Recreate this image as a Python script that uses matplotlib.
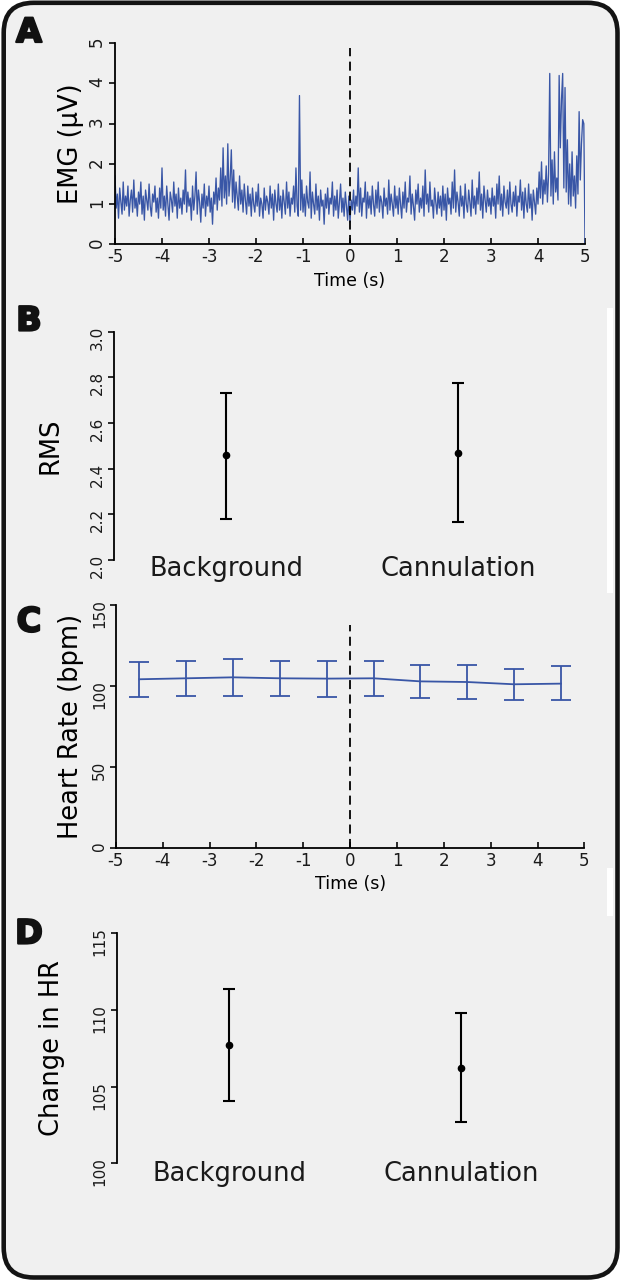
import numpy as np
import matplotlib
matplotlib.use( "Agg" )
import matplotlib.pyplot as plt
import matplotlib.patheffects as pe
from matplotlib.patches import FancyBboxPatch, Rectangle

plt.rcParams[ "axes.unicode_minus" ] = False

#  Panel A - EMG trace, one value every 25 ms from -5 s to 5 s (one row = 0.5 s)
emg_start = -5.0
emg_end = 5.0
emg_values = [
  1.70, 0.90, 1.25, 0.65, 1.40, 1.05, 0.75, 1.55, 0.85, 1.20, 0.95, 1.45, 0.70, 1.10, 1.35, 0.80, 1.60, 0.90, 1.15, 0.70,
  1.30, 1.00, 1.55, 0.75, 1.20, 0.60, 1.35, 1.10, 0.85, 1.50, 0.95, 0.70, 1.25, 1.05, 1.45, 0.80, 1.15, 0.65, 1.40, 0.90,
  1.90, 0.85, 1.20, 0.70, 1.45, 1.00, 0.60, 1.30, 1.10, 0.80, 1.55, 0.95, 1.25, 0.65, 1.40, 0.90, 1.15, 0.75, 1.35, 1.00,
  1.85, 0.80, 1.30, 0.95, 1.15, 0.60, 1.45, 0.85, 1.20, 1.80, 0.75, 1.35, 1.05, 0.55, 1.25, 0.90, 1.50, 0.70, 1.20, 0.95,
  1.45, 0.80, 1.15, 0.50, 1.30, 1.00, 1.65, 0.85, 1.40, 1.10, 1.90, 0.95, 2.40, 1.15, 1.70, 1.00, 2.50, 1.20, 1.60, 2.35,
  1.05, 1.85, 0.90, 1.55, 1.20, 0.85, 1.70, 1.00, 1.35, 0.80, 1.50, 1.10, 0.75, 1.45, 0.95, 1.25, 0.70, 1.40, 1.00, 0.80,
  1.30, 0.95, 1.50, 0.70, 1.15, 1.00, 0.65, 1.40, 0.85, 1.20, 1.05, 0.75, 1.45, 0.90, 1.25, 0.60, 1.35, 1.00, 0.80, 1.50,
  0.85, 1.20, 0.65, 1.35, 1.05, 0.75, 1.55, 0.90, 1.30, 0.70, 1.15, 1.00, 1.45, 0.80, 1.90, 0.95, 0.70, 3.70, 0.85, 1.60,
  0.80, 1.25, 0.70, 1.45, 1.05, 0.90, 1.80, 0.65, 1.30, 1.00, 0.75, 1.50, 0.85, 1.20, 0.60, 1.35, 0.95, 1.10, 0.50, 1.25,
  0.90, 1.40, 0.75, 1.15, 1.00, 1.55, 0.70, 1.20, 0.85, 1.35, 0.65, 1.05, 1.50, 0.80, 1.15, 0.70, 1.30, 0.95, 0.60, 1.20,
  0.55, 1.10, 0.85, 1.35, 0.75, 1.20, 0.95, 1.90, 0.80, 1.40, 0.70, 1.15, 1.05, 1.55, 0.65, 1.30, 0.90, 1.20, 0.75, 1.45,
  1.00, 0.70, 1.35, 0.90, 1.55, 0.80, 1.20, 1.05, 0.65, 1.40, 0.95, 1.15, 0.75, 1.60, 0.85, 1.25, 1.00, 0.70, 1.45, 0.90,
  1.20, 0.75, 1.40, 1.00, 0.65, 1.30, 0.90, 1.55, 0.80, 1.15, 1.05, 1.70, 0.75, 1.25, 0.95, 0.60, 1.35, 1.00, 1.50, 0.80,
  1.15, 0.90, 1.45, 0.70, 1.85, 1.00, 1.25, 0.80, 1.55, 0.95, 1.10, 0.65, 1.40, 1.05, 0.75, 1.30, 0.90, 1.20, 0.70, 1.45,
  0.85, 1.25, 0.60, 1.40, 1.00, 1.15, 0.75, 1.55, 0.90, 1.85, 0.80, 1.30, 1.05, 0.70, 1.45, 0.95, 1.20, 0.65, 1.50, 1.00,
  0.80, 1.35, 1.05, 0.70, 1.60, 0.90, 1.20, 0.75, 1.40, 1.00, 1.80, 0.85, 1.25, 0.65, 1.45, 1.10, 0.80, 1.35, 0.95, 1.15,
  0.75, 1.40, 0.95, 1.20, 0.65, 1.50, 1.00, 1.70, 0.85, 1.25, 0.70, 1.45, 1.05, 0.90, 1.35, 0.75, 1.55, 1.00, 0.80, 1.30,
  0.95, 1.45, 0.70, 1.20, 1.05, 1.60, 0.85, 1.30, 0.65, 1.40, 1.00, 0.80, 1.50, 0.90, 1.25, 0.60, 1.35, 1.05, 0.75, 1.40,
  1.00, 1.80, 1.15, 2.05, 1.00, 1.60, 1.25, 1.95, 1.05, 1.75, 4.25, 1.20, 2.10, 1.00, 2.30, 1.30, 1.65, 1.10, 4.20, 2.40,
  3.60, 4.25, 1.40, 3.90, 1.30, 2.60, 1.00, 2.00, 0.95, 2.30, 1.20, 1.70, 0.90, 2.20, 1.25, 3.30, 1.60, 2.50, 3.10, 3.00,
  0.00,
]

#  Panel B - RMS
groups = [ "Background", "Cannulation" ]
rms_mean = [ 2.46, 2.47 ]
rms_low = [ 2.18, 2.165 ]
rms_high = [ 2.73, 2.775 ]

#  Panel C - heart rate in 1 s bins
hr_times = [ -4.5, -3.5, -2.5, -1.5, -0.5, 0.5, 1.5, 2.5, 3.5, 4.5 ]
hr_mean = [ 104.1, 104.7, 105.3, 104.7, 104.5, 104.7, 102.8, 102.4, 101.0, 101.4 ]
hr_low = [ 93.3, 93.8, 94.0, 94.0, 93.1, 93.5, 92.5, 91.9, 91.2, 91.1 ]
hr_high = [ 114.6, 115.2, 116.6, 115.2, 115.6, 115.6, 113.1, 112.9, 110.4, 112.1 ]

#  Panel D - change in HR
change_mean = [ 107.74, 106.24 ]
change_low = [ 104.09, 102.70 ]
change_high = [ 111.39, 109.78 ]

BLUE = "#3956a6"
BG = "#f0f0f0"
W, H = 620, 1281

fig = plt.figure( figsize = ( W / 100, H / 100 ), dpi = 100 )
fig.patch.set_facecolor( "white" )


def px_axes( left, top, right, bottom ):
  #  Place an axes using pixel edges measured from the top-left corner
  return fig.add_axes( [ left / W, 1 - bottom / H, ( right - left ) / W, ( bottom - top ) / H ] )


def style_axes( ax, ysize ):
  ax.set_facecolor( "none" )
  ax.spines[ "top" ].set_visible( False )
  ax.spines[ "right" ].set_visible( False )
  ax.spines[ "left" ].set_linewidth( 1.3 )
  ax.spines[ "bottom" ].set_linewidth( 1.3 )
  ax.tick_params( axis = "y", direction = "out", length = 4.5, width = 1.3, labelsize = ysize,
                  labelrotation = 90, pad = 2, colors = "#1a1a1a" )


def error_lists( mean, low, high ):
  return [ np.array( mean ) - np.array( low ), np.array( high ) - np.array( mean ) ]


#  Background card with rounded border
bg = fig.add_axes( [ 0, 0, 1, 1 ], zorder = -1 )
bg.set_xlim( 0, W )
bg.set_ylim( H, 0 )
bg.axis( "off" )
bg.add_patch( FancyBboxPatch( ( 3.7, 2.8 ), 613.8, 1274.7, boxstyle = "round,pad=0,rounding_size=30",
                              facecolor = BG, edgecolor = "#141414", linewidth = 3.3 ) )
bg.add_patch( Rectangle( ( 607, 308 ), 6, 285, facecolor = "white", edgecolor = "none" ) )
bg.add_patch( Rectangle( ( 607, 868 ), 6, 48, facecolor = "white", edgecolor = "none" ) )

#  Panel A
ax = px_axes( 115, 43.3, 585, 244.3 )
style_axes( ax, 12 )
emg_t = np.linspace( emg_start, emg_end, len( emg_values ) )
ax.plot( emg_t, emg_values, color = BLUE, linewidth = 0.95 )
ax.axvline( 0, ymax = 0.976, color = "black", linewidth = 1.3, dashes = ( 5, 3 ) )
ax.set_xlim( -5, 5 )
ax.set_ylim( 0, 5 )
ax.set_xticks( range( -5, 6 ) )
ax.set_yticks( range( 0, 6 ) )
ax.tick_params( axis = "x", direction = "in", length = 4.5, width = 1.3, labelsize = 12, pad = 3, colors = "#1a1a1a" )
ax.set_xlabel( "Time (s)", fontsize = 12.5, labelpad = 4 )
ax.set_ylabel( "EMG (µV)", fontsize = 18.5, va = "center" )
ax.yaxis.set_label_coords( ( 71 - 115 ) / 470, 0.5 )

#  Panel B
ax = px_axes( 114, 331.7, 585, 560 )
style_axes( ax, 11 )
ax.errorbar( [ 0, 1 ], rms_mean, yerr = error_lists( rms_mean, rms_low, rms_high ), fmt = "o", color = "black",
             markersize = 4.5, capsize = 4, elinewidth = 1.5, capthick = 1.5 )
ax.set_xlim( -0.483, 1.547 )
ax.set_ylim( 2.0, 3.0 )
ax.set_yticks( [ 2.0, 2.2, 2.4, 2.6, 2.8, 3.0 ] )
ax.set_yticklabels( [ "2.0", "2.2", "2.4", "2.6", "2.8", "3.0" ] )
ax.spines[ "bottom" ].set_visible( False )
ax.set_xticks( [ 0, 1 ] )
ax.set_xticklabels( groups )
ax.tick_params( axis = "x", length = 0, labelsize = 18.5, pad = -3, colors = "#1a1a1a" )
ax.set_ylabel( "RMS", fontsize = 18.5, va = "center" )
ax.yaxis.set_label_coords( ( 50.5 - 114 ) / 471, 0.5 )

#  Panel C
ax = px_axes( 115.9, 605, 584.4, 847.7 )
style_axes( ax, 11 )
ax.errorbar( hr_times, hr_mean, yerr = error_lists( hr_mean, hr_low, hr_high ), color = BLUE,
             linewidth = 1.3, capsize = 7, elinewidth = 1.3, capthick = 1.3 )
ax.axvline( 0, ymax = 0.917, color = "black", linewidth = 1.3, dashes = ( 5, 3 ) )
ax.set_xlim( -5, 5 )
ax.set_ylim( 0, 150 )
ax.set_xticks( range( -5, 6 ) )
ax.set_yticks( [ 0, 50, 100, 150 ] )
ax.tick_params( axis = "x", direction = "in", length = 4.5, width = 1.3, labelsize = 12, pad = 3, colors = "#1a1a1a" )
ax.set_xlabel( "Time (s)", fontsize = 12.5, labelpad = 4 )
ax.set_ylabel( "Heart Rate (bpm)", fontsize = 18.5, va = "center" )
ax.yaxis.set_label_coords( ( 71.5 - 115.9 ) / 468.5, 0.5 )

#  Panel D
ax = px_axes( 116.6, 933.3, 585, 1163.3 )
style_axes( ax, 11 )
ax.errorbar( [ 0, 1 ], change_mean, yerr = error_lists( change_mean, change_low, change_high ), fmt = "o",
             color = "black", markersize = 4.5, capsize = 4, elinewidth = 1.5, capthick = 1.5 )
ax.set_xlim( -0.486, 1.533 )
ax.set_ylim( 100, 115 )
ax.set_yticks( [ 100, 105, 110, 115 ] )
ax.spines[ "bottom" ].set_visible( False )
ax.set_xticks( [ 0, 1 ] )
ax.set_xticklabels( groups )
ax.tick_params( axis = "x", length = 0, labelsize = 18.5, pad = -1.5, colors = "#1a1a1a" )
ax.set_ylabel( "Change in HR", fontsize = 18.5, va = "center" )
ax.yaxis.set_label_coords( ( 52 - 116.6 ) / 468.4, 0.5 )

#  Panel letters, stroked a little to look as heavy as the original
for letter, y in [ ( "A", 32.5 ), ( "B", 321 ), ( "C", 622 ), ( "D", 934 ) ]:
  fig.text( 29 / W, 1 - y / H, letter, fontsize = 24, fontweight = "bold", ha = "center", va = "center", color = "#111111",
            path_effects = [ pe.withStroke( linewidth = 1.6, foreground = "#111111" ) ] )

fig.savefig( "out.png", dpi = 100, facecolor = fig.get_facecolor() )
